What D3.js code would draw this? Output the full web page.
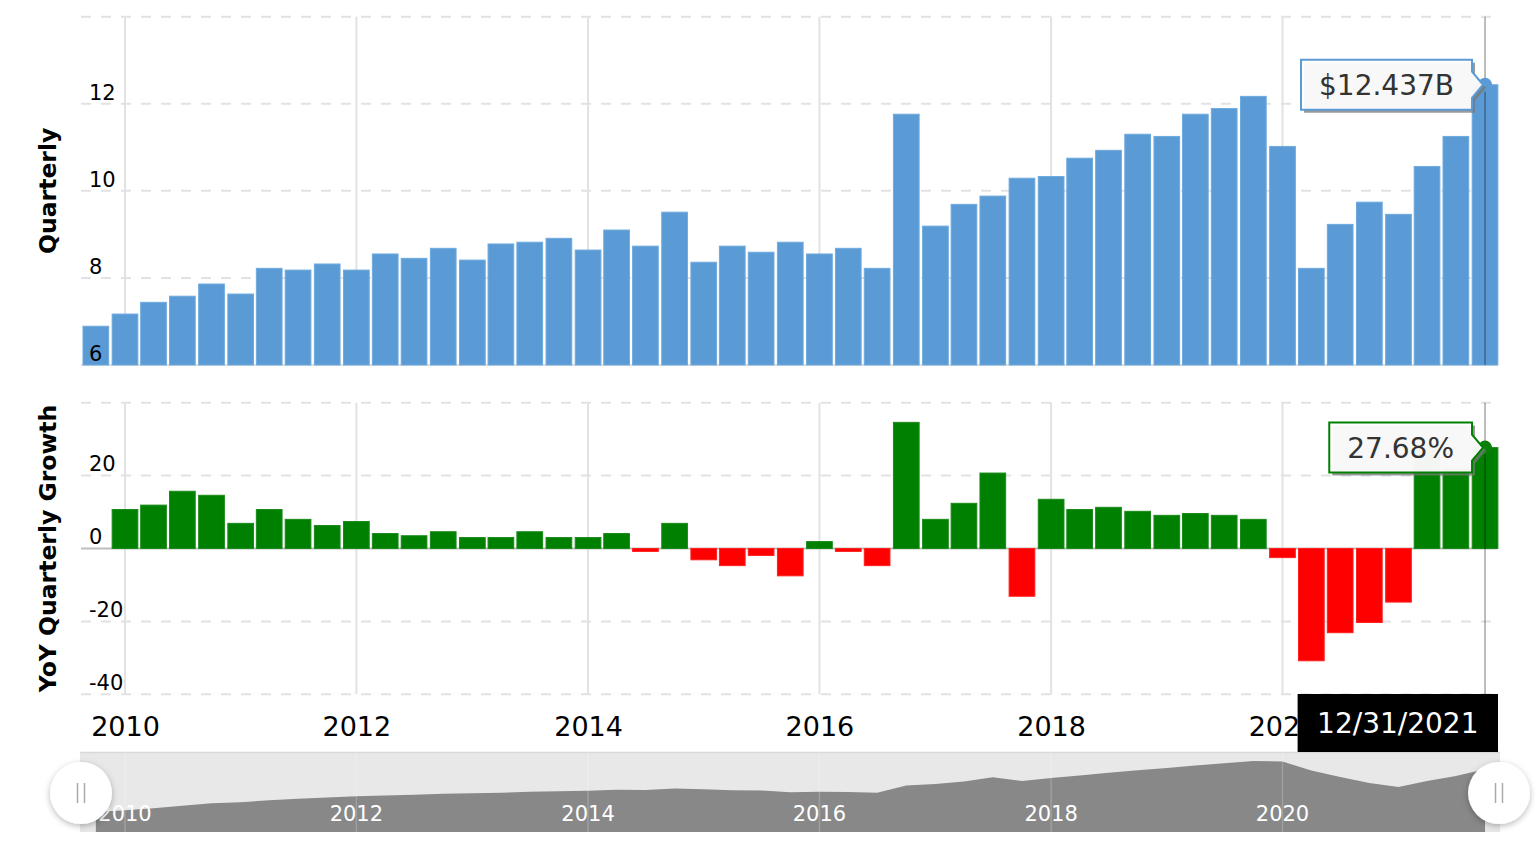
<!DOCTYPE html>
<html>
<head>
<meta charset="utf-8">
<script src="https://cdn.jsdelivr.net/npm/d3@7"></script>
<style>
  body { margin: 0; background: #fff; }
  svg { display: block; font-family: "DejaVu Sans", Verdana, sans-serif; }
</style>
</head>
<body>
<div id="chart"></div>
<script>
// quarter end dates
const quarters = [
  "2009-12-31",
  "2010-03-31", "2010-06-30", "2010-09-30", "2010-12-31",
  "2011-03-31", "2011-06-30", "2011-09-30", "2011-12-31",
  "2012-03-31", "2012-06-30", "2012-09-30", "2012-12-31",
  "2013-03-31", "2013-06-30", "2013-09-30", "2013-12-31",
  "2014-03-31", "2014-06-30", "2014-09-30", "2014-12-31",
  "2015-03-31", "2015-06-30", "2015-09-30", "2015-12-31",
  "2016-03-31", "2016-06-30", "2016-09-30", "2016-12-31",
  "2017-03-31", "2017-06-30", "2017-09-30", "2017-12-31",
  "2018-03-31", "2018-06-30", "2018-09-30", "2018-12-31",
  "2019-03-31", "2019-06-30", "2019-09-30", "2019-12-31",
  "2020-03-31", "2020-06-30", "2020-09-30", "2020-12-31",
  "2021-03-31", "2021-06-30", "2021-09-30", "2021-12-31"
];

// quarterly revenue, $B
const revenue = [
  6.89, 7.17, 7.44, 7.58, 7.86, 7.63, 8.22, 8.18, 8.32, 8.18,
  8.55, 8.45, 8.68, 8.41, 8.78, 8.82, 8.91, 8.64, 9.10, 8.73,
  9.51, 8.36, 8.73, 8.59, 8.82, 8.55, 8.68, 8.22, 11.76, 9.19,
  9.69, 9.88, 10.29, 10.33, 10.75, 10.93, 11.30, 11.25, 11.76, 11.89,
  12.17, 11.02, 8.22, 9.23, 9.74, 9.46, 10.56, 11.25, 12.437
];

// YoY quarterly growth, %
const growth = [
  null, 10.7, 11.9, 15.7, 14.6, 6.9, 10.7, 8.0, 6.3, 7.4,
  4.1, 3.5, 4.6, 3.0, 3.0, 4.6, 3.0, 3.0, 4.1, -0.8,
  6.9, -3.1, -4.7, -1.9, -7.5, 1.9, -0.8, -4.7, 34.6, 8.0,
  12.4, 20.7, -13.1, 13.5, 10.7, 11.3, 10.2, 9.1, 9.6, 9.1,
  8.0, -2.5, -30.8, -23.1, -20.3, -14.7, 28.5, 21.9, 27.68
];

// Q1-Q3 2009, only used for the trailing sum in the scrollbar
const prior2009 = [6.48, 6.65, 6.55];

const yearTicks = [2010, 2012, 2014, 2016, 2018, 2020];
const revenueTicks = [6, 8, 10, 12];
const revenueGrid = [8, 10, 12, 14];
const growthTicks = [-40, -20, 0, 20];
const growthGrid = [-40, -20, 20, 40];

const width = 1538, height = 850;
const left = 81, right = 1497;
const gridColor = "#e2e2e2";
const blue = "#5b9bd5", green = "#008000", red = "#ff0000";

const parse = d3.timeParse("%Y-%m-%d");
const allRev = prior2009.concat(revenue);
const rows = quarters.map((q, i) => {
  const end = parse(q);
  return {
    end: end,
    mid: d3.timeMonth.offset(d3.timeMonth.floor(end), -2),
    rev: revenue[i],
    g: growth[i],
    ttm: d3.sum(allRev.slice(i, i + 4))
  };
});
const last = rows[rows.length - 1];
const yearDates = yearTicks.map(y => new Date(y, 0, 1));

const x = d3.scaleTime()
  .domain([new Date(2010, 0, 1), new Date(2020, 0, 1)])
  .range([125, 1282.5]);
const yRev = d3.scaleLinear().domain([6, 14]).range([365, 16.7]);
const yGr = d3.scaleLinear().domain([-40, 40]).range([694.3, 402.7]);
const barW = 25.7;

const svg = d3.select("#chart").append("svg")
  .attr("width", width)
  .attr("height", height);

const defs = svg.append("defs");
defs.append("filter").attr("id", "shadow")
  .attr("x", "-50%").attr("y", "-50%").attr("width", "200%").attr("height", "200%")
  .append("feDropShadow")
  .attr("dx", 0).attr("dy", 2).attr("stdDeviation", 3)
  .attr("flood-color", "#000").attr("flood-opacity", 0.28);

// ---- grid ----
const grid = svg.append("g");
grid.selectAll(".hr").data(revenueGrid).join("line")
  .attr("x1", left).attr("x2", right)
  .attr("y1", d => yRev(d)).attr("y2", d => yRev(d))
  .attr("stroke", gridColor).attr("stroke-width", 2)
  .attr("stroke-dasharray", "10,10");
grid.append("line")
  .attr("x1", left).attr("x2", right)
  .attr("y1", yRev(6)).attr("y2", yRev(6))
  .attr("stroke", gridColor).attr("stroke-width", 2);
grid.selectAll(".hg").data(growthGrid).join("line")
  .attr("x1", left).attr("x2", right)
  .attr("y1", d => yGr(d)).attr("y2", d => yGr(d))
  .attr("stroke", gridColor).attr("stroke-width", 2)
  .attr("stroke-dasharray", "10,10");
grid.selectAll(".vr").data(yearDates).join("line")
  .attr("x1", d => x(d)).attr("x2", d => x(d))
  .attr("y1", yRev(14)).attr("y2", yRev(6))
  .attr("stroke", gridColor).attr("stroke-width", 2);
grid.selectAll(".vg").data(yearDates).join("line")
  .attr("x1", d => x(d)).attr("x2", d => x(d))
  .attr("y1", yGr(40)).attr("y2", yGr(-40))
  .attr("stroke", gridColor).attr("stroke-width", 2);

// ---- revenue bars ----
svg.append("g")
  .selectAll("rect")
  .data(rows)
  .join("rect")
  .attr("x", d => x(d.mid) - barW / 2)
  .attr("width", barW)
  .attr("y", d => yRev(d.rev))
  .attr("height", d => yRev(6) - yRev(d.rev))
  .attr("fill", blue)
  .attr("stroke", "#6eaade")
  .attr("stroke-width", 1);

// ---- growth bars ----
svg.append("line")
  .attr("x1", left).attr("x2", right)
  .attr("y1", yGr(0)).attr("y2", yGr(0))
  .attr("stroke", "#bdbdbd").attr("stroke-width", 2);

svg.append("g")
  .selectAll("rect")
  .data(rows.filter(d => d.g != null))
  .join("rect")
  .attr("x", d => x(d.mid) - barW / 2)
  .attr("width", barW)
  .attr("y", d => yGr(Math.max(0, d.g)))
  .attr("height", d => Math.abs(yGr(d.g) - yGr(0)))
  .attr("fill", d => d.g >= 0 ? green : red)
  .attr("stroke", d => d.g >= 0 ? "#1a8a1a" : "#ff2020")
  .attr("stroke-width", 1);

// ---- axes ----
const plain = d => String(d);
const axRev = svg.append("g")
  .attr("transform", "translate(89,0)")
  .call(d3.axisRight(yRev).tickValues(revenueTicks).tickFormat(plain).tickSize(0).tickPadding(0));
const axGr = svg.append("g")
  .attr("transform", "translate(89,0)")
  .call(d3.axisRight(yGr).tickValues(growthTicks).tickFormat(plain).tickSize(0).tickPadding(0));
[axRev, axGr].forEach(ax => {
  ax.select(".domain").remove();
  ax.selectAll("text")
    .attr("x", 0)
    .attr("dy", "-0.22em")
    .attr("font-size", 21)
    .attr("font-family", "DejaVu Sans, Verdana, sans-serif")
    .attr("fill", "#000");
});

const axX = svg.append("g")
  .attr("transform", "translate(0,736)")
  .call(d3.axisBottom(x).tickValues(yearDates).tickFormat(d3.timeFormat("%Y")).tickSize(0).tickPadding(0));
axX.select(".domain").remove();
axX.selectAll("text")
  .attr("y", 0).attr("dy", 0)
  .attr("font-size", 27)
  .attr("font-family", "DejaVu Sans, Verdana, sans-serif")
  .attr("fill", "#000");

svg.append("text")
  .attr("transform", `translate(56,${(yRev(6) + yRev(14)) / 2}) rotate(-90)`)
  .attr("text-anchor", "middle")
  .attr("font-size", 23.5).attr("font-weight", "bold")
  .text("Quarterly");
svg.append("text")
  .attr("transform", `translate(56,${(yGr(-40) + yGr(40)) / 2}) rotate(-90)`)
  .attr("text-anchor", "middle")
  .attr("font-size", 23.5).attr("font-weight", "bold")
  .text("YoY Quarterly Growth");

// ---- cursor ----
const cx = x(last.mid);
svg.append("line")
  .attr("x1", cx).attr("x2", cx).attr("y1", yRev(14)).attr("y2", yRev(6))
  .attr("stroke", "#000").attr("stroke-opacity", 0.35).attr("stroke-width", 1.5);
svg.append("line")
  .attr("x1", cx).attr("x2", cx).attr("y1", yGr(40)).attr("y2", yGr(-40))
  .attr("stroke", "#000").attr("stroke-opacity", 0.35).attr("stroke-width", 1.5);

svg.append("circle").attr("cx", cx).attr("cy", yRev(last.rev)).attr("r", 7).attr("fill", blue);
svg.append("circle").attr("cx", cx).attr("cy", yGr(last.g)).attr("r", 7).attr("fill", "#0a800a");

function callout(px, py, label, color) {
  const g = svg.append("g");
  const t = g.append("text")
    .attr("font-size", 28)
    .attr("fill", "#333")
    .attr("text-anchor", "middle")
    .text(label);
  const tw = t.node().getComputedTextLength();
  const r = px - 13, l = r - tw - 36, top = py - 25, bot = py + 25;
  const d = `M${l},${top}H${r}V${py - 13}L${px - 2},${py}L${r},${py + 13}V${bot}H${l}Z`;
  g.insert("path", "text").attr("d", d)
    .attr("transform", "translate(3,3)")
    .attr("fill", "#777").attr("opacity", 0.75);
  g.insert("path", "text").attr("d", d)
    .attr("fill", "#fff").attr("fill-opacity", 0.93)
    .attr("stroke", color).attr("stroke-width", 2);
  t.attr("x", (l + r) / 2).attr("y", py + 10);
}
callout(cx, yRev(last.rev), "$" + d3.format(".3f")(last.rev) + "B", blue);
callout(cx, yGr(last.g), d3.format(".2f")(last.g) + "%", green);

// ---- scrollbar ----
const nav = svg.append("g");
const navTop = 752, navBot = 832;
const navY = d3.scaleLinear().domain(d3.extent(rows, d => d.ttm)).range([812, 761]);
nav.append("rect")
  .attr("x", 80).attr("y", navTop)
  .attr("width", 1500 - 80).attr("height", navBot - navTop)
  .attr("fill", "#e8e8e8");
nav.append("line")
  .attr("x1", 80).attr("x2", 1500).attr("y1", navTop + 0.5).attr("y2", navTop + 0.5)
  .attr("stroke", "#d8d8d8").attr("stroke-width", 1.5);
nav.append("path")
  .datum(rows)
  .attr("d", d3.area().x(d => x(d.mid)).y0(navBot).y1(d => navY(d.ttm)))
  .attr("fill", "#888");
nav.selectAll(".ng").data(yearDates).join("line")
  .attr("x1", d => x(d)).attr("x2", d => x(d))
  .attr("y1", navTop).attr("y2", navBot)
  .attr("stroke", "#fff").attr("stroke-opacity", 0.2).attr("stroke-width", 1.5);
nav.selectAll(".nl").data(yearDates).join("text")
  .attr("x", d => x(d)).attr("y", 821)
  .attr("text-anchor", "middle")
  .attr("font-size", 21)
  .attr("fill", "#fff")
  .text(d3.timeFormat("%Y"));

[81, 1499].forEach(hx => {
  const h = nav.append("g");
  h.append("circle").attr("cx", hx).attr("cy", 793).attr("r", 31)
    .attr("fill", "#fff").attr("filter", "url(#shadow)");
  [-3.5, 3.5].forEach(o => {
    h.append("line")
      .attr("x1", hx + o).attr("x2", hx + o).attr("y1", 783).attr("y2", 803)
      .attr("stroke", "#aaa").attr("stroke-width", 1.5);
  });
});

// date label under the cursor
const dateG = svg.append("g");
const dt = dateG.append("text")
  .attr("font-size", 28).attr("fill", "#fff").attr("text-anchor", "middle")
  .text(d3.timeFormat("%m/%d/%Y")(last.end));
const dw = dt.node().getComputedTextLength() + 39;
dateG.insert("rect", "text")
  .attr("x", right + 1 - dw).attr("y", 694)
  .attr("width", dw).attr("height", 58)
  .attr("fill", "#000");
dt.attr("x", right + 1 - dw / 2).attr("y", 733);
</script>
</body>
</html>
